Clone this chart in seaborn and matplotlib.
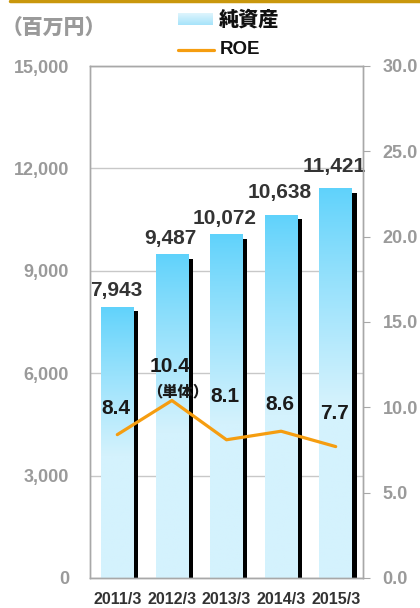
import numpy as np
import matplotlib
matplotlib.use("Agg")
import matplotlib.pyplot as plt
import matplotlib.patheffects as pe
from matplotlib.colors import to_rgba
from matplotlib.lines import Line2D
from matplotlib.ticker import FixedLocator
import seaborn as sns

# ---- data ----
years = ["2011/3", "2012/3", "2013/3", "2014/3", "2015/3"]
net_assets = [7943, 9487, 10072, 10638, 11421]          # 百万円
roe = [8.4, 10.4, 8.1, 8.6, 7.7]                         # %
roe_notes = ["", "（単体）", "", "", ""]
left_ticks = [0, 3000, 6000, 9000, 12000, 15000]
right_ticks = [0.0, 5.0, 10.0, 15.0, 20.0, 25.0, 30.0]

# ---- style ----
sns.set_style("white")
plt.rcParams["font.family"] = ["Liberation Sans", "Noto Sans CJK JP", "DejaVu Sans"]
plt.rcParams["font.weight"] = "bold"
CJK = ["Noto Sans CJK JP", "DejaVu Sans"]

GREY = "#9a9a9a"
SPINE = "#a8a8a8"
DARK = "#333333"
ORANGE = "#f59d10"
TOP_BLUE = "#5fd2fb"
LIGHT_BLUE = "#d4f2fd"

W, H, DPI = 420, 608, 100
fig = plt.figure(figsize=(W / DPI, H / DPI), dpi=DPI)
ax = fig.add_axes([90 / W, 1 - 578 / H, 273 / W, 512 / H])

# bars for net assets
sns.barplot(x=years, y=net_assets, ax=ax, color=LIGHT_BLUE, width=0.6,
            saturation=1, linewidth=0, zorder=2)

ax.set_ylim(0, 15000)
ax.set_xlim(-0.5, len(years) - 0.5)
ax.set_axisbelow(True)
ax.yaxis.set_major_locator(FixedLocator(left_ticks))
ax.set_yticklabels([f"{v:,}" for v in left_ticks])
ax.grid(axis="y", color="#c8c8c8", lw=1)
ax.grid(axis="x", visible=False)
ax.set_xlabel("")
ax.set_ylabel("")


def bar_gradient():
    n = 256
    frac = np.linspace(0, 1, n)
    t = np.clip(frac / 0.55, 0, 1) ** 0.9
    c0 = np.array(to_rgba(TOP_BLUE))
    c1 = np.array(to_rgba(LIGHT_BLUE))
    cols = c0[None, :] * (1 - t[:, None]) + c1[None, :] * t[:, None]
    return cols[:, None, :]


grad = bar_gradient()
shadow = [pe.SimplePatchShadow(offset=(3.3, -3.3), shadow_rgbFace="black", alpha=1.0),
          pe.Normal()]
for bar in ax.patches:
    bar.set_path_effects(shadow)
    x0, y0 = bar.get_x(), bar.get_y()
    w, h = bar.get_width(), bar.get_height()
    im = ax.imshow(grad, extent=(x0, x0 + w, y0, y0 + h), aspect="auto",
                   origin="upper", zorder=bar.get_zorder() + 0.1,
                   interpolation="bilinear")
    im.set_clip_path(bar)
ax.set_ylim(0, 15000)
ax.set_xlim(-0.5, len(years) - 0.5)

# value labels above bars
label_lift = [16, 16, 16, 22, 22]
for i, (v, lift) in enumerate(zip(net_assets, label_lift)):
    ax.annotate(f"{v:,}", (i, v), xytext=(-1, lift * 72 / DPI),
                textcoords="offset points", ha="center", va="center",
                fontsize=15, fontweight="bold", color=DARK, zorder=6)

# spines and ticks, left axis
for s in ax.spines.values():
    s.set_color(SPINE)
    s.set_linewidth(1)
ax.tick_params(axis="y", length=0, pad=15, labelsize=13, labelcolor=GREY)
ax.tick_params(axis="x", length=0, pad=10, labelsize=11.5, labelcolor=DARK)
ax.xaxis.set_minor_locator(FixedLocator([0.5, 1.5, 2.5, 3.5]))
ax.tick_params(axis="x", which="minor", direction="in", length=4, color=SPINE, width=1)
for lab in ax.get_xticklabels() + ax.get_yticklabels():
    lab.set_fontweight("bold")

# ROE line on the right axis
ax2 = ax.twinx()
sns.lineplot(x=np.arange(len(years)), y=roe, ax=ax2, color=ORANGE, lw=2.3)
ax2.set_ylim(0, 30)
ax2.set_xlim(-0.5, len(years) - 0.5)
ax2.yaxis.set_major_locator(FixedLocator(right_ticks))
ax2.set_yticklabels([f"{v:.1f}" for v in right_ticks])
ax2.set_ylabel("")
ax2.grid(False)
for s in ax2.spines.values():
    s.set_color(SPINE)
    s.set_linewidth(1)
ax2.tick_params(axis="y", direction="out", length=5, color=SPINE, pad=9,
                labelsize=13, labelcolor=GREY)
for lab in ax2.get_yticklabels():
    lab.set_fontweight("bold")

roe_label_lift = [1.56, 2.02, 2.56, 1.54, 1.91]
for i, (v, lift, note) in enumerate(zip(roe, roe_label_lift, roe_notes)):
    ax2.text(i - 0.03, v + lift, f"{v:.1f}", ha="center", va="center",
             fontsize=15, fontweight="bold", color="#1a1a1a", zorder=6)
    if note:
        ax2.annotate(note, (i, v + lift), xytext=(4, -19),
                     textcoords="offset points", ha="center", va="center",
                     fontsize=11, fontweight="heavy", color="#1a1a1a", family=CJK)

# unit caption
fig.text(2 / W, 1 - 29 / H, "（百万円）", ha="left", va="center", fontsize=15,
         fontweight="heavy", color=GREY, family=CJK)

# legend
lg = fig.add_axes([178 / W, 1 - 25 / H, 35 / W, 12 / H])
leg_grad = np.linspace(0, 1, 64)[:, None, None] * (
    np.array(to_rgba("#a6e3fa")) - np.array(to_rgba("#dff5fd"))) + np.array(to_rgba("#dff5fd"))
lg.imshow(leg_grad, aspect="auto", extent=(0, 1, 0, 1), origin="upper")
lg.set_axis_off()
fig.text(219 / W, 1 - 20 / H, "純資産", ha="left", va="center", fontsize=14.5,
         fontweight="heavy", color="#111111", family=CJK)
fig.add_artist(Line2D([178 / W, 214 / W], [1 - 50 / H, 1 - 50 / H],
                      color=ORANGE, lw=2.3))
fig.text(220 / W, 1 - 50 / H, "ROE", ha="left", va="center", fontsize=13.5,
         fontweight="bold", color="#111111")

# gold rule at the top
fig.add_artist(Line2D([10 / W, 1.0], [1 - 1 / H, 1 - 1 / H], color="#c9970c", lw=2.5))

fig.savefig("out.png", dpi=DPI)
